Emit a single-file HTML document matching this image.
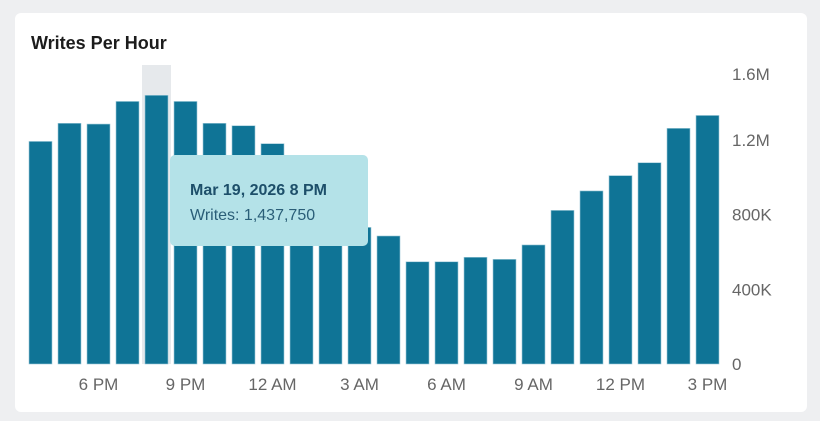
<!DOCTYPE html>
<html><head><meta charset="utf-8"><style>
body{margin:0;background:#eeeff1;width:820px;height:421px;overflow:hidden;font-family:"Liberation Sans",sans-serif}
#card{position:absolute;left:15px;top:13px;width:792px;height:399px;background:#fff;border-radius:6px}
#title{position:absolute;left:16px;top:20px;font-weight:bold;font-size:18px;color:#1c1c1c}
</style></head><body>
<div id="card"><div id="title">Writes Per Hour</div></div>
<svg id="chart" width="820" height="421" style="position:absolute;left:0;top:0"></svg>
<script>
const categories=["4 PM","5 PM","6 PM","7 PM","8 PM","9 PM","10 PM","11 PM","12 AM","1 AM","2 AM","3 AM","4 AM","5 AM","6 AM","7 AM","8 AM","9 AM","10 AM","11 AM","12 PM","1 PM","2 PM","3 PM"];
const writes=[1191000,1288000,1284000,1405000,1437750,1405000,1288000,1275000,1179000,1000000,860000,731000,685000,547000,547000,571000,560000,637000,822000,926000,1008000,1077000,1261000,1330000];
const yTicks=[0,400000,800000,1200000,1600000];
const yTickLabels=["0","400K","800K","1.2M","1.6M"];
const xTickLabels=["6 PM","9 PM","12 AM","3 AM","6 AM","9 AM","12 PM","3 PM"];
const xTickIndex=[2,5,8,11,14,17,20,23];
const ns="http://www.w3.org/2000/svg",svg=document.getElementById('chart');
const x0=29,step=29,bw=23,yBase=364,yTop=65,yMax=1600000;
const xs=i=>x0+i*step;
const ys=v=>yBase-(v/yMax)*(yBase-yTop);
function mk(t,a){const e=document.createElementNS(ns,t);for(const k in a)e.setAttribute(k,a[k]);svg.appendChild(e);return e;}
const hl=mk('rect',{x:xs(4)-3,y:yTop,width:step,height:yBase-yTop,fill:'#e6e9ec'});


writes.forEach((v,i)=>{const r=mk('rect',{x:xs(i),y:ys(v),width:bw,height:yBase-ys(v),fill:'#0f7496',stroke:'#9cc9d8','stroke-width':0.6});

});
yTicks.forEach((v,i)=>{let y=ys(v)+6;if(i==yTicks.length-1)y+=9;const t=mk('text',{x:732,y:y,'font-size':17,fill:'#666'});t.textContent=yTickLabels[i];

});
xTickLabels.forEach((l,k)=>{const t=mk('text',{x:xs(xTickIndex[k])+bw/2,y:390,'font-size':17,fill:'#666','text-anchor':'middle'});t.textContent=l;

});
const tip=mk('rect',{x:170,y:155,width:198,height:91,rx:5,fill:'#b4e2e8'});


const t1=mk('text',{x:190,y:195,'font-size':16,'font-weight':'bold',fill:'#1d4f6a'});t1.textContent='Mar 19, 2026 8 PM';


const t2=mk('text',{x:190,y:220,'font-size':16,fill:'#2a5e78'});t2.textContent='Writes: '+writes[4].toLocaleString('en-US');


</script></body></html>
